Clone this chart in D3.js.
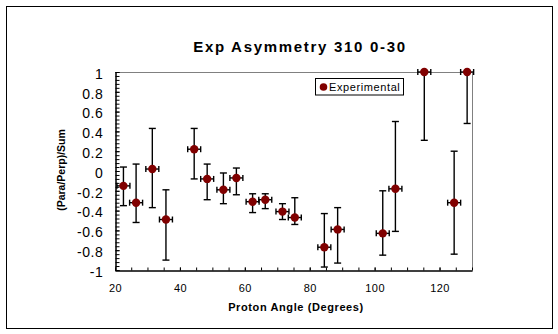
<!DOCTYPE html>
<html>
<head>
<meta charset="utf-8">
<script src="https://cdn.jsdelivr.net/npm/d3@7"></script>
<style>
  html, body { margin: 0; padding: 0; background: #fff; }
  svg { display: block; font-family: "Liberation Sans", Arial, sans-serif; }
</style>
</head>
<body>
<svg id="chart" width="558" height="334"></svg>
<script>
// ---- data ----
const angles  = [22.6, 26.5, 31.5, 35.7, 44.4, 48.4, 53.4, 57.4, 62.4, 66.3, 71.6, 75.4, 84.5, 88.6, 102.5, 106.4, 115.3, 124.5, 128.5];
const asym    = [-0.15, -0.32, 0.02, -0.49, 0.22, -0.08, -0.19, -0.07, -0.31, -0.29, -0.41, -0.47, -0.77, -0.59, -0.63, -0.18, 1.0, -0.32, 1.0];
const errTop  = [0.04, 0.07, 0.43, -0.19, 0.43, 0.07, -0.02, 0.03, -0.23, -0.23, -0.33, -0.27, -0.43, -0.37, -0.20, 0.50, 1.0, 0.20, 1.0];
const errBot  = [-0.35, -0.52, -0.37, -0.90, -0.08, -0.29, -0.33, -0.24, -0.42, -0.38, -0.49, -0.54, -0.97, -0.93, -0.85, -0.61, 0.31, -0.84, 0.48];
const angleErr = 2;
const xTickValues = [20, 40, 60, 80, 100, 120];
const xTickLabels = ["20", "40", "60", "80", "100", "120"];
const yTickValues = [1, 0.8, 0.6, 0.4, 0.2, 0, -0.2, -0.4, -0.6, -0.8, -1];
const yTickLabels = ["1", "0.8", "0.6", "0.4", "0.2", "0", "-0.2", "-0.4", "-0.6", "-0.8", "-1"];
const titleText = "Exp Asymmetry 310 0-30";
const xTitle = "Proton Angle (Degrees)";
const yTitle = "(Para/Perp)/Sum";
const seriesName = "Experimental";

const svg = d3.select("#chart");
const L = 115, R = 472, T = 72, B = 270;
const x = d3.scaleLinear().domain([20, 130]).range([L, R]);
const y = d3.scaleLinear().domain([-1, 1]).range([B, T]);
const markerColor = "#800000";

// outer frame
svg.append("rect").attr("x", 6.5).attr("y", 6.5).attr("width", 546).attr("height", 322)
  .attr("fill", "#fff").attr("stroke", "#000").attr("stroke-width", 1);

// title
svg.append("text").attr("x", 300).attr("y", 52).attr("text-anchor", "middle")
  .attr("font-size", 15).attr("font-weight", "bold").attr("letter-spacing", 1.7)
  .text(titleText);

// plot top/right border (gray)
svg.append("path")
  .attr("d", `M${L},${T + 0.5}H${R + 0.5}V${B}`)
  .attr("fill", "none").attr("stroke", "#808080").attr("stroke-width", 1);

// y axis minor ticks
const yMinor = d3.range(-1, 1.0001, 0.04);
svg.append("g").attr("transform", `translate(${L + 0.5},0)`)
  .call(d3.axisLeft(y).tickValues(yMinor).tickFormat("").tickSizeInner(-4).tickSizeOuter(0))
  .call(g => g.selectAll("line,path").attr("stroke", "#000"));

// y axis labels
const yAx = svg.append("g").attr("transform", `translate(${L + 0.5},0)`)
  .call(d3.axisLeft(y).tickValues(yTickValues)
    .tickFormat((d, i) => yTickLabels[i]).tickSizeInner(-4).tickSizeOuter(0).tickPadding(12));
yAx.selectAll("path,line").attr("stroke", "#000");
yAx.selectAll("text").attr("font-size", 14).attr("letter-spacing", 0.6)
  .attr("dy", "0.45em").attr("fill", "#000")
  .attr("font-family", "'Liberation Sans', Arial, sans-serif");

// x axis minor ticks
const xMinor = d3.range(20, 130.001, 5);
svg.append("g").attr("transform", `translate(0,${B + 0.5})`)
  .call(d3.axisBottom(x).tickValues(xMinor).tickFormat("").tickSizeInner(-3).tickSizeOuter(0))
  .call(g => g.selectAll("line,path").attr("stroke", "#000"));

const xAx = svg.append("g").attr("transform", `translate(0,${B + 0.5})`)
  .call(d3.axisBottom(x).tickValues(xTickValues)
    .tickFormat((d, i) => xTickLabels[i]).tickSizeInner(-3).tickSizeOuter(0).tickPadding(13.5));
xAx.selectAll("path,line").attr("stroke", "#000");
xAx.selectAll("text").attr("font-size", 11).attr("letter-spacing", 0.4).attr("fill", "#000")
  .attr("font-family", "'Liberation Sans', Arial, sans-serif");

// axis titles
svg.append("text").attr("x", 296).attr("y", 311).attr("text-anchor", "middle")
  .attr("font-size", 11).attr("font-weight", "bold").attr("letter-spacing", 0.6)
  .text(xTitle);
svg.append("text").attr("transform", "translate(65,170) rotate(-90)").attr("text-anchor", "middle")
  .attr("font-size", 10.5).attr("font-weight", "bold")
  .text(yTitle);

// data
const pts = angles.map((a, i) => ({ a, v: asym[i], hi: errTop[i], lo: errBot[i] }));
const capV = 3.5, capH = 3;
const eg = svg.append("g").attr("stroke", "#000").attr("stroke-width", 1.4).attr("fill", "none");
pts.forEach(p => {
  const cx = x(p.a), cy = y(p.v);
  // vertical bar
  eg.append("line").attr("x1", cx).attr("x2", cx).attr("y1", y(p.hi)).attr("y2", y(p.lo));
  eg.append("line").attr("x1", cx - capV).attr("x2", cx + capV).attr("y1", y(p.hi)).attr("y2", y(p.hi));
  eg.append("line").attr("x1", cx - capV).attr("x2", cx + capV).attr("y1", y(p.lo)).attr("y2", y(p.lo));
  // horizontal bar
  const x0 = x(p.a - angleErr), x1 = x(p.a + angleErr);
  eg.append("line").attr("x1", x0).attr("x2", x1).attr("y1", cy).attr("y2", cy);
  eg.append("line").attr("x1", x0).attr("x2", x0).attr("y1", cy - capH).attr("y2", cy + capH);
  eg.append("line").attr("x1", x1).attr("x2", x1).attr("y1", cy - capH).attr("y2", cy + capH);
});
svg.append("g").selectAll("circle").data(pts).join("circle")
  .attr("cx", d => x(d.a)).attr("cy", d => y(d.v)).attr("r", 4.2)
  .attr("fill", markerColor);

// legend
svg.append("rect").attr("x", 315.5).attr("y", 78.5).attr("width", 88).attr("height", 16.5)
  .attr("fill", "#fff").attr("stroke", "#000").attr("stroke-width", 1);
svg.append("circle").attr("cx", 323.5).attr("cy", 87).attr("r", 3.8).attr("fill", markerColor);
svg.append("text").attr("x", 329).attr("y", 91).attr("font-size", 11).attr("letter-spacing", 0.6)
  .text(seriesName);
</script>
</body>
</html>
